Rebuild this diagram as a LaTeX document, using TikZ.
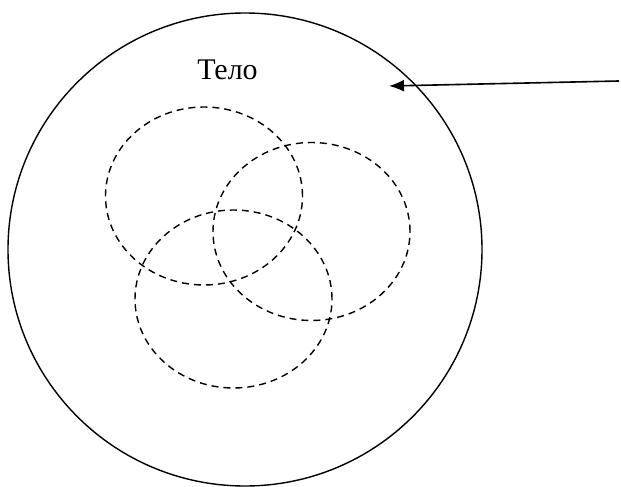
\documentclass[tikz,border=0pt]{standalone}
\usepackage{fontspec}
\setmainfont{Liberation Serif}
\usetikzlibrary{shapes.geometric,arrows.meta}
\begin{document}
\begin{tikzpicture}[x=1pt,y=-1pt,
  bigbody/.style={draw,ellipse,line width=1.4pt,inner sep=0pt,minimum width=474pt,minimum height=473pt},
  part/.style={draw,ellipse,line width=1.4pt,inner sep=0pt,dash pattern=on 7pt off 5pt,minimum width=197pt,minimum height=178pt},
  arrowline/.style={line width=1.6pt,-{Latex[length=15pt,width=12pt]}},
  label/.style={font=\fontsize{30pt}{34pt}\selectfont,anchor=base,inner sep=0pt}]
\useasboundingbox (0,0) rectangle (621,487);
\node[bigbody] (body) at (245,249.5) {};
\node[part] (p1) at (204,196) {};
\node[part] (p2) at (311.5,231.5) {};
\node[part] (p3) at (233.5,299) {};
\node[label] (t) at (227.5,79) {Тело};
\coordinate (src) at (619,81);
\coordinate (tip) at (389,86);
\draw[arrowline] (src) -- (tip);
\end{tikzpicture}
\end{document}
